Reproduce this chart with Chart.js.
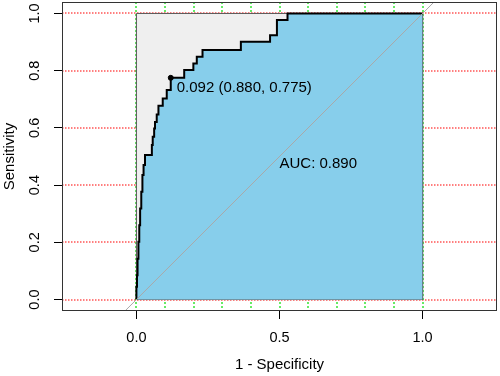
<!DOCTYPE html>
<html>
<head>
<meta charset="utf-8">
<script src="https://cdn.jsdelivr.net/npm/chart.js@4"></script>
<style>
  html, body { margin: 0; padding: 0; background: #fff; }
</style>
</head>
<body>
<canvas id="roc" width="500" height="376"></canvas>
<script>
// ROC curve corners (x = 1 - specificity, y = sensitivity)
var fpr = [0, 0.002, 0.004, 0.007, 0.010, 0.013, 0.017, 0.021, 0.025, 0.030,
           0.054, 0.057, 0.062, 0.065, 0.071, 0.077, 0.092, 0.106, 0.120,
           0.167, 0.199, 0.211, 0.231, 0.365, 0.467, 0.491, 0.528, 1.0];
var tpr = [0, 0.045, 0.085, 0.143, 0.202, 0.260, 0.318, 0.377, 0.435, 0.470,
           0.505, 0.540, 0.569, 0.598, 0.621, 0.647, 0.677, 0.703, 0.732,
           0.775, 0.802, 0.825, 0.849, 0.872, 0.901, 0.924, 0.977, 1.0];

// max AUC square and chance line
var maxX = [0, 1];
var maxY = [1, 1];
var boxX = [0, 0, 1, 1, 0];
var boxY = [0, 1, 1, 0, 0];
var diagX = [-0.3, 1.3];
var diagY = [-0.3, 1.3];

// best threshold
var thrX = 0.12;
var thrY = 0.775;
var thrLabel = '0.092 (0.880, 0.775)';
var aucLabel = 'AUC: 0.890';
var aucX = 0.5;
var aucY = 0.5;

// axes
var xGrid = [0, 0.1, 0.2, 0.3, 0.4, 0.5, 0.6, 0.7, 0.8, 0.9, 1];
var xLabels = [0, 0.5, 1];
var yTicks = [0, 0.2, 0.4, 0.6, 0.8, 1];

function pts(xs, ys) {
  return xs.map(function (v, i) { return {x: v, y: ys[i]}; });
}

Chart.defaults.font.family = '"Liberation Sans", Arial, sans-serif';
Chart.defaults.color = '#000';

// dotted grid under everything
var dottedGrid = {
  id: 'dottedGrid',
  beforeDatasetsDraw: function (chart) {
    var ctx = chart.ctx, a = chart.chartArea;
    var x = chart.scales.x, y = chart.scales.y;
    ctx.save();
    ctx.lineWidth = 1.2;
    ctx.setLineDash([1.5, 1.5]);
    ctx.strokeStyle = '#ff0000';
    ctx.beginPath();
    yTicks.forEach(function (v) {
      var p = Math.round(y.getPixelForValue(v));
      ctx.moveTo(a.left, p);
      ctx.lineTo(a.right, p);
    });
    ctx.stroke();
    ctx.strokeStyle = '#00dd00';
    ctx.setLineDash([2, 2]);
    ctx.beginPath();
    xGrid.forEach(function (v) {
      var p = Math.round(x.getPixelForValue(v));
      ctx.moveTo(p, a.top);
      ctx.lineTo(p, a.bottom);
    });
    ctx.stroke();
    ctx.restore();
  }
};

var annotate = {
  id: 'annotate',
  afterDatasetsDraw: function (chart) {
    var ctx = chart.ctx, a = chart.chartArea;
    var x = chart.scales.x, y = chart.scales.y;
    ctx.save();
    ctx.fillStyle = '#000';
    ctx.font = '15px "Liberation Sans", Arial, sans-serif';
    ctx.textAlign = 'left';
    ctx.textBaseline = 'middle';
    ctx.fillText(thrLabel, x.getPixelForValue(thrX) + 6, y.getPixelForValue(thrY) + 10);
    ctx.fillText(aucLabel, x.getPixelForValue(aucX), y.getPixelForValue(aucY) + 7);
    // box round the plot
    ctx.strokeStyle = '#333';
    ctx.lineWidth = 1;
    ctx.strokeRect(a.left + 0.5, a.top + 0.5, a.width - 1, a.height - 1);
    ctx.restore();
  }
};

var chart = new Chart(document.getElementById('roc'), {
  type: 'scatter',
  data: {
    datasets: [
      {
        data: pts(maxX, maxY),
        showLine: true,
        fill: 'origin',
        backgroundColor: '#efefef',
        borderWidth: 0,
        pointRadius: 0,
        order: 5
      },
      {
        data: pts(boxX, boxY),
        showLine: true,
        fill: false,
        borderColor: '#555',
        borderWidth: 1,
        pointRadius: 0,
        order: 4
      },
      {
        data: pts(fpr, tpr),
        showLine: true,
        stepped: 'after',
        fill: 'origin',
        backgroundColor: '#87ceeb',
        borderColor: '#000',
        borderWidth: 2,
        pointRadius: 0,
        order: 3
      },
      {
        data: pts(diagX, diagY),
        showLine: true,
        borderColor: '#a9a9a9',
        borderWidth: 1,
        pointRadius: 0,
        clip: 0,
        order: 2
      },
      {
        data: [{x: thrX, y: thrY}],
        showLine: false,
        pointRadius: 2.5,
        pointBackgroundColor: '#000',
        pointBorderColor: '#000',
        order: 1
      }
    ]
  },
  options: {
    responsive: false,
    animation: false,
    layout: { autoPadding: false, padding: { left: 0, right: 3, top: 2, bottom: 0 } },
    plugins: {
      legend: { display: false },
      tooltip: { enabled: false }
    },
    scales: {
      x: {
        type: 'linear',
        min: -0.26,
        max: 1.26,
        afterBuildTicks: function (s) { s.ticks = xGrid.map(function (v) { return {value: v}; }); },
        afterFit: function (s) { s.height = 65; s.paddingLeft = 0; s.paddingRight = 0; },
        ticks: {
          autoSkip: false,
          maxRotation: 0,
          padding: 10,
          font: { size: 14.5 },
          callback: function (v) { return xLabels.indexOf(v) >= 0 ? v.toFixed(1) : ''; }
        },
        grid: {
          drawOnChartArea: false,
          color: '#000',
          tickColor: function (c) { return c.tick && xLabels.indexOf(c.tick.value) >= 0 ? '#000' : 'rgba(0,0,0,0)'; },
          tickLength: 8
        },
        border: { display: false },
        title: { display: true, text: '1 - Specificity', font: { size: 15 }, padding: { top: 0, bottom: 2 } }
      },
      y: {
        type: 'linear',
        min: -0.04,
        max: 1.04,
        afterBuildTicks: function (s) { s.ticks = yTicks.map(function (v) { return {value: v}; }); },
        afterFit: function (s) { s.width = 62; s.paddingTop = 0; s.paddingBottom = 0; },
        ticks: {
          autoSkip: false,
          minRotation: 90,
          maxRotation: 90,
          crossAlign: 'center',
          padding: 9,
          font: { size: 14.5 },
          callback: function (v) { return v.toFixed(1); }
        },
        grid: {
          drawOnChartArea: false,
          color: '#000',
          tickColor: '#000',
          tickLength: 8
        },
        border: { display: false },
        title: { display: true, text: 'Sensitivity', font: { size: 15 }, padding: { top: 1, bottom: 0 } }
      }
    }
  },
  plugins: [dottedGrid, annotate]
});
</script>
</body>
</html>
